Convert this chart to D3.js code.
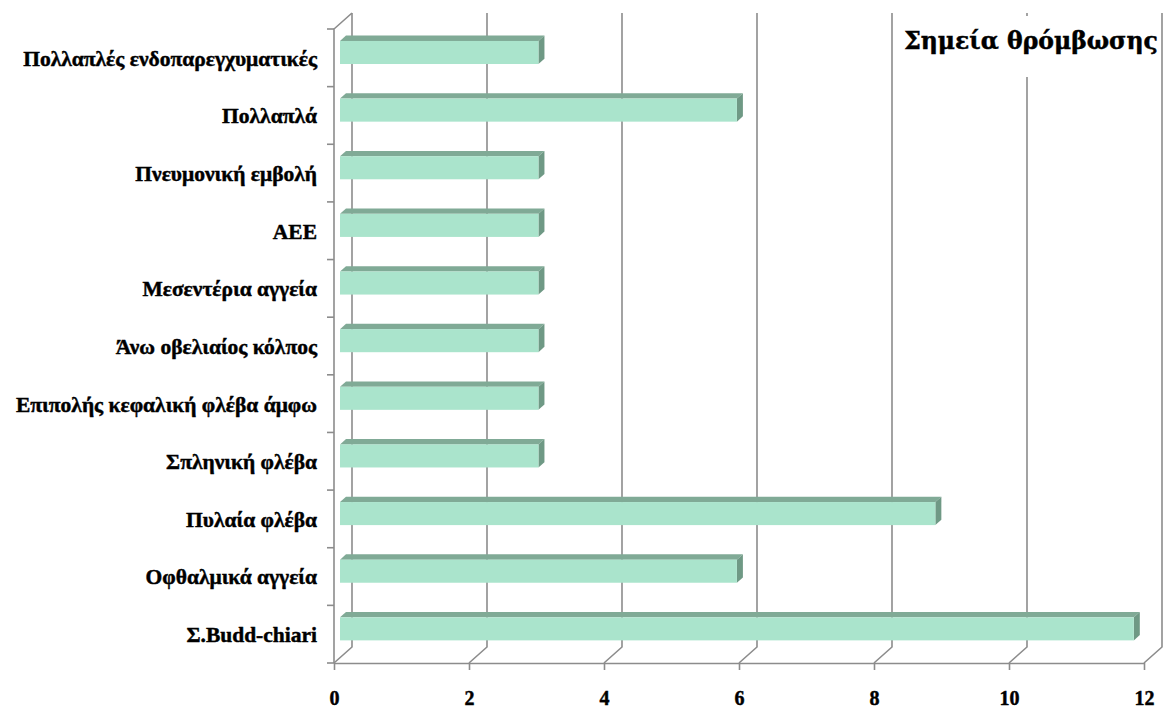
<!DOCTYPE html>
<html>
<head>
<meta charset="utf-8">
<script src="https://cdn.jsdelivr.net/npm/d3@7"></script>
<style>
    body { margin: 0; background: #fff; }
    svg text { font-family: "Liberation Serif", "Times New Roman", serif; font-weight: bold; fill: #000; stroke: #000; stroke-width: 0.45px; }
</style>
</head>
<body>
<div id="chart"></div>
<script>
// categories from top to bottom, as in the picture
var categories = [
    "Πολλαπλές ενδοπαρεγχυματικές",
    "Πολλαπλά",
    "Πνευμονική εμβολή",
    "ΑΕΕ",
    "Μεσεντέρια αγγεία",
    "Άνω οβελιαίος κόλπος",
    "Επιπολής κεφαλική φλέβα άμφω",
    "Σπληνική φλέβα",
    "Πυλαία φλέβα",
    "Οφθαλμικά αγγεία",
    "Σ.Budd-chiari"
];
var values = [2.94, 5.88, 2.94, 2.94, 2.94, 2.94, 2.94, 2.94, 8.82, 5.88, 11.76];
var xTicks = [0, 2, 4, 6, 8, 10, 12];
var title = "Σημεία θρόμβωσης";

var w = 1166, h = 709;
var margin = { top: 29, right: 4, bottom: 46, left: 334 };

// depth of the 3d box (oblique projection)
var depthX = 18, depthY = -16;

var svg = d3.select("#chart")
    .append("svg")
    .attr("width", w)
    .attr("height", h);

var x = d3.scaleLinear()
    .domain([0, 12])
    .range([margin.left, w - margin.right - depthX]);

var y = d3.scaleBand()
    .domain(categories)
    .range([margin.top, h - margin.bottom])
    .paddingInner(0.6)
    .paddingOuter(0.3);

var yBottom = h - margin.bottom;
var gridColor = "#8c8c8c";

// back wall gridlines + floor diagonals
var grid = svg.append("g")
    .attr("stroke", gridColor)
    .attr("stroke-width", 1.6)
    .attr("fill", "none");

grid.selectAll("path.grid")
    .data(xTicks)
    .join("path")
    .attr("class", "grid")
    .attr("d", d => `M${x(d)},${yBottom} L${x(d) + depthX},${yBottom + depthY} L${x(d) + depthX},${margin.top + depthY}`);

// left wall: front edge and top diagonal
grid.append("path")
    .attr("d", `M${x(0)},${yBottom} L${x(0)},${margin.top} L${x(0) + depthX},${margin.top + depthY}`);

// category boundary ticks on the left wall
var yIdx = d3.scaleLinear().domain([0, categories.length]).range([yBottom, margin.top]);
grid.selectAll("line.ctick")
    .data(d3.range(categories.length + 1))
    .join("line")
    .attr("class", "ctick")
    .attr("x1", x(0) - 7)
    .attr("x2", x(0))
    .attr("y1", d => yIdx(d))
    .attr("y2", d => yIdx(d));

// x axis (floor front edge)
var xAxis = d3.axisBottom(x)
    .tickValues(xTicks)
    .tickSize(7)
    .tickSizeOuter(0)
    .tickPadding(21)
    .tickFormat(d3.format("d"));

var gx = svg.append("g")
    .attr("transform", `translate(0, ${yBottom})`)
    .call(xAxis);
gx.select(".domain").attr("stroke", gridColor).attr("stroke-width", 1.6);
gx.selectAll(".tick line").attr("stroke", gridColor).attr("stroke-width", 1.6);
gx.selectAll(".tick text").style("font-size", "20px");

// category labels
var yAxis = d3.axisLeft(y)
    .tickSize(0)
    .tickPadding(17);
var gy = svg.append("g")
    .attr("transform", `translate(${x(0)}, 1)`)
    .call(yAxis);
gy.select(".domain").remove();
gy.selectAll(".tick text").style("font-size", "21.5px");

// 3d bars, front face sits a third into the depth
var f0 = 1 / 3, f1 = 2 / 3;
var bars = svg.append("g").selectAll("g.bar")
    .data(categories.map((c, i) => ({ cat: c, val: values[i] })))
    .join("g")
    .attr("class", "bar");

bars.each(function (d) {
    var g = d3.select(this);
    var x0 = x(0) + depthX * f0, x1 = x(d.val) + depthX * f0;
    var yt = y(d.cat) + depthY * f0, yb = yt + y.bandwidth();
    var ox = depthX * (f1 - f0), oy = depthY * (f1 - f0);
    // top face
    g.append("path")
        .attr("fill", "#80aa96")
        .attr("d", `M${x0},${yt} L${x0 + ox},${yt + oy} L${x1 + ox},${yt + oy} L${x1},${yt} Z`);
    // side face
    g.append("path")
        .attr("fill", "#6f9985")
        .attr("d", `M${x1},${yt} L${x1 + ox},${yt + oy} L${x1 + ox},${yb + oy} L${x1},${yb} Z`);
    // front face
    g.append("rect")
        .attr("fill", "#aae4cc")
        .attr("x", x0)
        .attr("y", yt)
        .attr("width", x1 - x0)
        .attr("height", yb - yt);
});

// title with white box covering the gridlines
svg.append("rect")
    .attr("x", 896)
    .attr("y", 16)
    .attr("width", 261)
    .attr("height", 61)
    .attr("fill", "#fff");

svg.append("text")
    .attr("x", 1031)
    .attr("y", 48.5)
    .attr("text-anchor", "middle")
    .style("font-family", "'DejaVu Serif', serif")
    .style("font-size", "23.5px")
    .text(title);
</script>
</body>
</html>
